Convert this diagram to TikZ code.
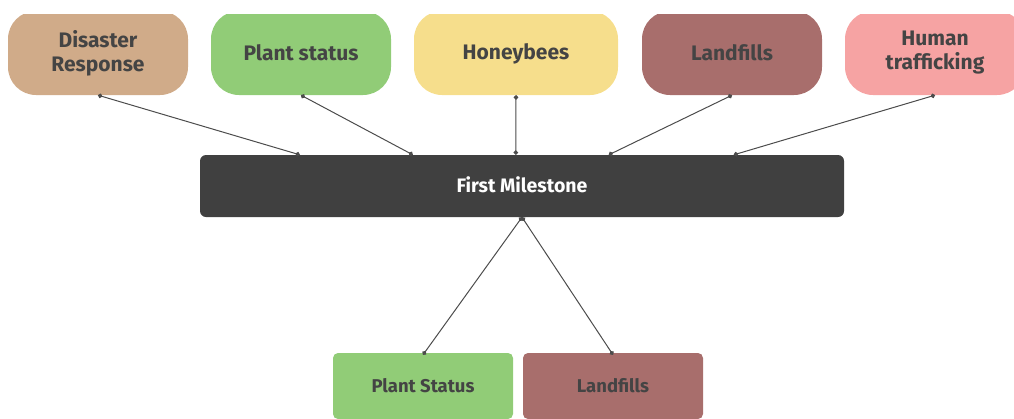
\documentclass[tikz,border=0pt]{standalone}
\usepackage{fontspec}
\setmainfont{Fira Sans}
\usetikzlibrary{arrows.meta, positioning, calc}
\definecolor{sandcolor}{HTML}{D0AB89}
\definecolor{leafcolor}{HTML}{91CC77}
\definecolor{honeycolor}{HTML}{F6DE8C}
\definecolor{dumpcolor}{HTML}{A86E6C}
\definecolor{rosecolor}{HTML}{F6A3A3}
\definecolor{milecolor}{HTML}{404040}
\definecolor{inkcolor}{HTML}{444444}
\newcommand{\capstrut}{\rule[-0.12em]{0pt}{0.92em}}

\begin{document}
\begin{tikzpicture}[x=1pt, y=-1pt,
  every node/.style={font=\bfseries, text=inkcolor,
                     execute at begin node=\capstrut, execute at end node=\capstrut},
  topic/.style={rounded corners=28pt, minimum width=180pt, minimum height=84pt,
                align=center, font=\fontsize{21}{24}\selectfont\bfseries},
  mile/.style={fill=milecolor, rounded corners=6pt, minimum width=644pt,
               minimum height=62pt, text=white, font=\fontsize{19.5}{22}\selectfont\bfseries},
  leaf/.style={rounded corners=5pt, minimum width=180pt, minimum height=66pt,
               font=\fontsize{18.5}{22}\selectfont\bfseries},
  link/.style={draw=black!70, line width=1pt,
               {Circle[length=4.5pt,width=4.5pt]}-{Circle[length=4.5pt,width=4.5pt]}}
]
  \useasboundingbox (0,0) rectangle (1014,418);
  \clip (0,14) rectangle (1014,418);
  % topics
  \node[topic, fill=sandcolor] (dis) at (98,53) {Disaster\\Response};
  \node[topic, fill=leafcolor] (plant) at (301,53) {Plant status};
  \node[topic, fill=honeycolor, minimum width=204pt] (bees) at (516,53) {Honeybees};
  \node[topic, fill=dumpcolor] (land) at (732,53) {Landfills};
  \node[topic, fill=rosecolor] (human) at (935,53) {Human\\trafficking};
  % milestone
  \node[mile] (ms) at (522,186) {First Milestone};
  % results
  \node[leaf, fill=leafcolor] (plant2) at (423,386) {Plant Status};
  \node[leaf, fill=dumpcolor] (land2) at (613,386) {Landfills};

  \draw[link] (dis.south) -- ([xshift=100pt]ms.north west);
  \draw[link] (plant.south) -- ([xshift=213pt]ms.north west);
  \draw[link] (bees.south) -- ([xshift=316pt]ms.north west);
  \draw[link] (land.south) -- ([xshift=409pt]ms.north west);
  \draw[link] (human.south) -- ([xshift=534pt]ms.north west);
  \draw[link] (ms.south) -- ([yshift=-2pt]plant2.north);
  \draw[link] (ms.south) -- ([yshift=-2pt]land2.north);
\end{tikzpicture}
\end{document}
